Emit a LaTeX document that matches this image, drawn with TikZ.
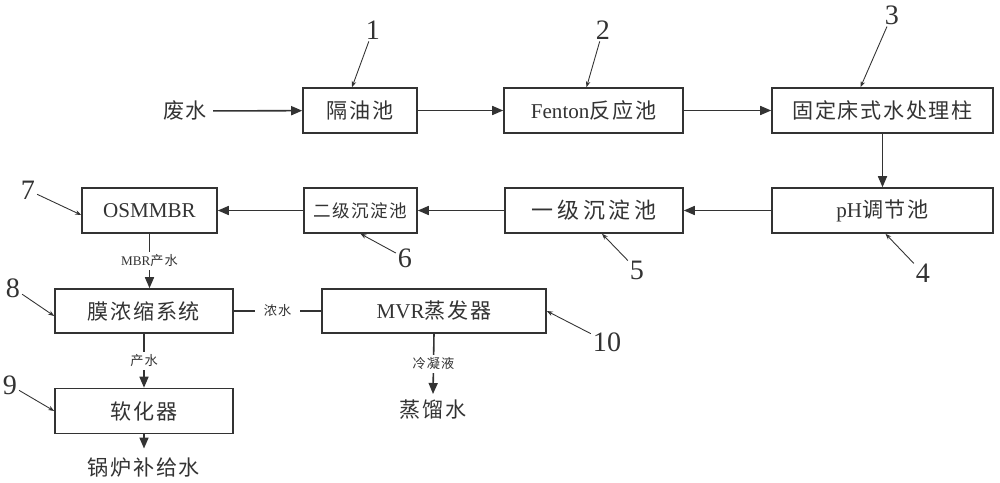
\documentclass[tikz,border=0pt]{standalone}
\usepackage{fontspec}
\setmainfont{Liberation Serif}
\newfontfamily\cjk{Noto Sans CJK SC}[LetterSpace=8]
\newfontfamily\cjkwide{Noto Sans CJK SC}[LetterSpace=18]
\usetikzlibrary{arrows.meta,calc}

\begin{document}
\begin{tikzpicture}[x=0.2mm,y=-0.2mm,color=black!80,
    box/.style={draw,line width=0.9pt,minimum height=9mm,inner sep=0pt,font=\cjk\fontsize{12}{14}\selectfont},
    flow/.style={line width=0.9pt,-{Triangle[length=2.2mm,width=1.8mm]}},
    lead/.style={line width=0.5pt,-{Stealth[length=1.2mm,width=0.9mm]}},
    num/.style={inner sep=1pt,font=\fontsize{16}{18}\selectfont},
    word/.style={font=\cjk\fontsize{12}{14}\selectfont},
    tag/.style={fill=white,inner sep=1.5pt,font=\cjk\fontsize{7.5}{9}\selectfont}]
    \fill[white] (0,0) rectangle (1000,483);
    \useasboundingbox (0,0) rectangle (1000,483);

    % first row
    \node[word] (feishui) at (185,111) {废水};
    \node[box,minimum width=22.8mm] (geyou) at (360,110.5) {隔油池};
    \node[box,minimum width=35.8mm] (fenton) at (593.5,110.5) {{\rmfamily Fenton}反应池};
    \node[box,minimum width=44.2mm] (guding) at (882.5,110.5) {固定床式水处理柱};
    \draw[flow] (feishui) -- (geyou);
    \draw[flow] (geyou) -- (fenton);
    \draw[flow] (fenton) -- (guding);

    % second row
    \node[box,minimum width=44.2mm] (ph) at (882.5,210.5) {{\rmfamily pH}调节池};
    \node[box,minimum width=35.6mm,font=\cjkwide\fontsize{12.5}{14}\selectfont] (yiji) at (594,210.5) {一级沉淀池};
    \node[box,minimum width=22.6mm,font=\cjk\fontsize{10}{12}\selectfont] (erji) at (360.5,210.5) {二级沉淀池};
    \node[box,minimum width=27mm,font=\fontsize{12}{14}\selectfont] (osm) at (149.5,210.5) {OSMMBR};
    \draw[flow] (guding) -- (ph);
    \draw[flow] (ph) -- (yiji);
    \draw[flow] (yiji) -- (erji);
    \draw[flow] (erji) -- (osm);

    % third row
    \node[box,minimum width=35.6mm,minimum height=8.8mm] (mo) at (144,311) {膜浓缩系统};
    \node[box,minimum width=44.8mm,minimum height=8.8mm] (mvr) at (434,311) {{\rmfamily MVR}蒸发器};
    \node[box,minimum width=35.6mm] (ruanhua) at (144,411) {软化器};
    \node[word] (zhengliu) at (433,410) {蒸馏水};
    \node[word] (guolu) at (144,468) {锅炉补给水};
    \draw[flow] (osm.south) -- node[tag] {{\rmfamily MBR}产水} (osm.south |- mo.north);
    \draw[line width=0.9pt] (mo) -- node[tag,inner xsep=5pt] {浓水} (mvr);
    \draw[flow] (mo) -- node[tag] {产水} (ruanhua);
    \draw[flow] (mvr.south) -- node[tag] {冷凝液} (zhengliu.north);
    \draw[flow,shorten >=2pt] (ruanhua) -- (guolu);

    % numbers
    \node[num] (n1) at (373,30) {1};
    \node[num] (n2) at (603,30) {2};
    \node[num] (n3) at (892,15) {3};
    \node[num] (n4) at (923,273) {4};
    \node[num] (n5) at (637,270) {5};
    \node[num] (n6) at (405,258) {6};
    \node[num] (n7) at (28,190) {7};
    \node[num] (n8) at (13,288) {8};
    \node[num] (n9) at (10,385) {9};
    \node[num] (n10) at (607,342) {10};
    \draw[lead] (n1) -- ($(geyou.north)+(-8,0)$);
    \draw[lead] (n2) -- ($(fenton.north)+(-7,0)$);
    \draw[lead] (n3) -- ($(guding.north)+(-22,0)$);
    \draw[lead] (n4) -- ($(ph.south)+(3,0)$);
    \draw[lead] (n5) -- ($(yiji.south)+(8,0)$);
    \draw[lead] (n6) -- (erji.south);
    \draw[lead] (n7) -- ($(osm.west)+(0,4.5)$);
    \draw[lead] (n8) -- ($(mo.west)+(0,5)$);
    \draw[lead] (n9) -- (ruanhua.west);
    \draw[lead] (n10) -- (mvr.east);
\end{tikzpicture}
\end{document}
